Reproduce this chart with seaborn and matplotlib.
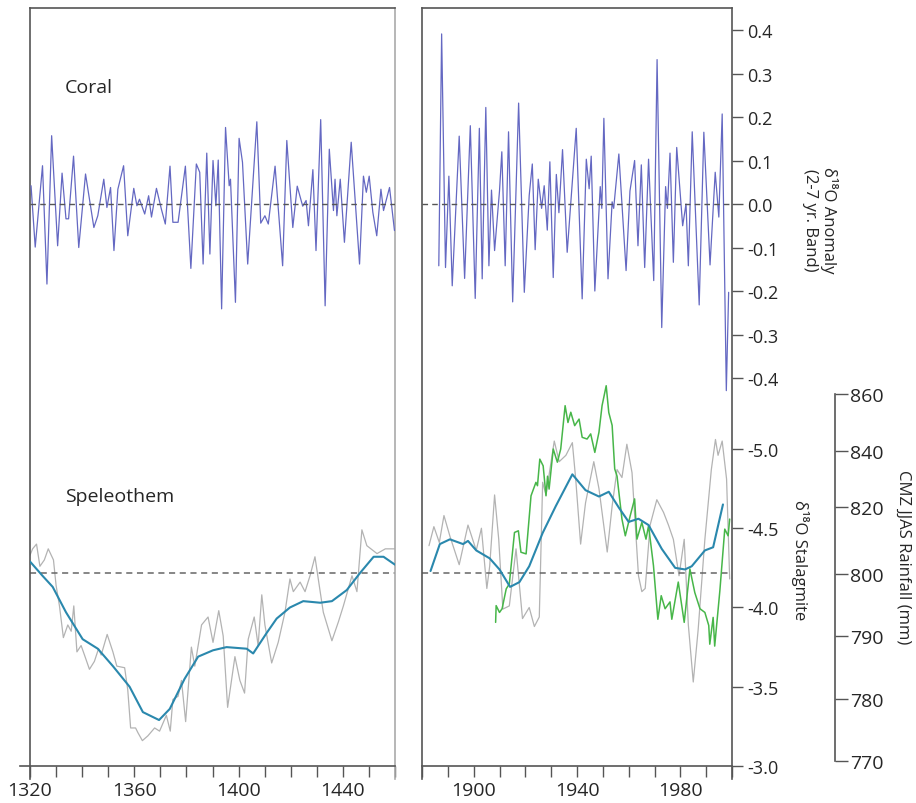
import numpy as np
import matplotlib
matplotlib.use("Agg")
import matplotlib.pyplot as plt
from matplotlib.ticker import FormatStrFormatter
import seaborn as sns

# ---- coral d18O anomaly (2-7 yr band), 1320-1460 ----
coral_old_years = [1320.4, 1322.0, 1324.8, 1326.5, 1328.3, 1330.6, 1332.3, 1333.8, 1334.8, 1336.7,
                   1338.7, 1341.3, 1344.5, 1346.0, 1348.3, 1349.5, 1350.9, 1352.2, 1353.7, 1355.9,
                   1357.5, 1359.8, 1361.0, 1362.0, 1364.0, 1365.5, 1366.6, 1368.5, 1370.4, 1371.9,
                   1373.7, 1374.8, 1376.8, 1379.6, 1381.7, 1383.8, 1385.1, 1386.4, 1387.8, 1389.0,
                   1390.2, 1391.3, 1392.2, 1393.5, 1395.0, 1396.4, 1396.9, 1398.8, 1400.2, 1401.5,
                   1403.5, 1407.0, 1408.5, 1410.1, 1411.4, 1414.0, 1416.9, 1418.5, 1420.8, 1422.5,
                   1424.6, 1425.9, 1426.8, 1428.5, 1429.7, 1431.5, 1433.2, 1434.8, 1436.4, 1437.0,
                   1437.7, 1439.0, 1440.6, 1443.2, 1446.4, 1447.9, 1449.0, 1450.1, 1451.5, 1453.0,
                   1454.6, 1455.6, 1457.9, 1459.8]
coral_old_vals = [0.042, -0.099, 0.088, -0.184, 0.157, -0.096, 0.071, -0.034, -0.034, 0.110,
                  -0.100, 0.069, -0.054, -0.027, 0.057, -0.008, 0.038, -0.107, 0.034, 0.088,
                  -0.073, 0.036, -0.004, 0.011, -0.023, 0.019, -0.030, 0.036, -0.012, -0.046,
                  0.087, -0.042, -0.042, 0.087, -0.148, 0.092, 0.073, -0.138, 0.117, -0.115,
                  0.100, -0.004, 0.101, -0.241, 0.176, 0.042, 0.057, -0.226, 0.151, 0.096,
                  -0.138, 0.189, -0.044, -0.027, -0.046, 0.087, -0.142, 0.146, -0.054, 0.041,
                  -0.005, 0.008, -0.050, 0.079, -0.107, 0.194, -0.234, 0.126, -0.015, 0.057,
                  -0.027, 0.057, -0.088, 0.142, -0.138, 0.064, 0.027, 0.064, -0.019, -0.073,
                  0.034, -0.015, 0.038, -0.061]

# ---- coral d18O anomaly, 1880-2000 ----
coral_new_years = [1886.5, 1887.6, 1889.1, 1890.4, 1891.7, 1894.4, 1896.5, 1898.7, 1900.6, 1902.2,
                   1903.3, 1904.7, 1905.9, 1906.9, 1908.1, 1910.0, 1910.9, 1912.2, 1913.5, 1915.1,
                   1917.4, 1919.6, 1921.5, 1922.7, 1923.8, 1925.0, 1926.3, 1927.3, 1928.5, 1929.5,
                   1930.8, 1932.0, 1933.0, 1934.4, 1936.2, 1939.7, 1942.0, 1943.6, 1944.7, 1945.5,
                   1946.9, 1949.0, 1949.6, 1950.4, 1952.0, 1953.6, 1954.2, 1956.2, 1959.0, 1960.5,
                   1962.3, 1963.6, 1964.9, 1966.2, 1967.7, 1969.7, 1971.0, 1972.8, 1974.3, 1975.0,
                   1976.0, 1977.3, 1978.6, 1980.9, 1982.2, 1983.1, 1984.6, 1987.3, 1989.1, 1991.5,
                   1993.5, 1994.9, 1996.2, 1997.8, 1998.7]
coral_new_vals = [-0.142, 0.391, -0.146, 0.064, -0.188, 0.156, -0.171, 0.180, -0.217, 0.174,
                  -0.172, 0.222, -0.142, 0.032, -0.107, 0.030, 0.120, -0.142, 0.166, -0.225,
                  0.232, -0.203, 0.020, 0.092, -0.105, 0.057, -0.010, 0.042, -0.060, 0.097,
                  -0.169, 0.068, -0.020, 0.125, -0.111, 0.174, -0.218, 0.103, 0.035, 0.110,
                  -0.200, 0.040, -0.010, 0.197, -0.172, 0.005, -0.010, 0.115, -0.153, 0.030,
                  0.100, -0.096, 0.090, -0.146, 0.103, -0.176, 0.332, -0.284, 0.040, -0.010,
                  0.117, -0.134, 0.130, -0.050, 0.000, -0.142, 0.166, -0.232, 0.165, -0.140,
                  0.073, -0.030, 0.207, -0.429, -0.203]

# ---- stalagmite d18O, raw (grey) and smoothed (teal), 1320-1460 ----
spel_old_years = [1320.0, 1321.0, 1322.5, 1323.8, 1325.5, 1327.0, 1329.0, 1330.0, 1331.3, 1332.8,
                  1334.5, 1335.8, 1336.8, 1338.0, 1339.6, 1340.9, 1342.8, 1344.7, 1346.3, 1347.3,
                  1349.6, 1351.8, 1353.3, 1356.3, 1357.5, 1358.6, 1360.5, 1361.4, 1363.1, 1365.2,
                  1367.8, 1369.7, 1372.3, 1373.8, 1374.8, 1376.8, 1378.1, 1379.7, 1381.9, 1383.2,
                  1385.8, 1388.3, 1390.2, 1392.4, 1394.1, 1395.8, 1398.6, 1400.5, 1402.3, 1403.7,
                  1406.0, 1407.5, 1408.9, 1410.1, 1412.7, 1415.2, 1417.8, 1419.7, 1421.0, 1423.6,
                  1425.5, 1427.4, 1429.3, 1431.3, 1432.5, 1435.8, 1438.3, 1440.2, 1443.5, 1445.4,
                  1447.3, 1449.2, 1453.1, 1456.3, 1460.0]
spel_old_raw = [-4.33, -4.37, -4.40, -4.26, -4.30, -4.37, -4.30, -4.14, -4.01, -3.81,
                -3.89, -3.85, -4.01, -3.72, -3.76, -3.70, -3.61, -3.66, -3.74, -3.70,
                -3.83, -3.72, -3.63, -3.62, -3.48, -3.24, -3.24, -3.21, -3.16, -3.19,
                -3.24, -3.22, -3.32, -3.22, -3.42, -3.44, -3.54, -3.28, -3.75, -3.63,
                -3.89, -3.94, -3.78, -3.98, -3.82, -3.37, -3.69, -3.54, -3.46, -3.80,
                -3.94, -3.76, -4.08, -3.89, -3.65, -3.78, -3.97, -4.18, -4.10, -4.16,
                -4.10, -4.20, -4.32, -4.10, -3.97, -3.79, -3.91, -4.01, -4.20, -4.10,
                -4.49, -4.39, -4.34, -4.37, -4.37]
spel_old_sm_years = [1320.0, 1324.8, 1328.7, 1333.8, 1340.2, 1346.0, 1351.8, 1358.2, 1363.3, 1369.5,
                     1373.6, 1379.3, 1384.5, 1390.2, 1395.4, 1403.1, 1405.6, 1410.8, 1414.6, 1419.7,
                     1424.8, 1431.3, 1435.8, 1441.5, 1446.7, 1451.8, 1455.6, 1460.0]
spel_old_sm = [-4.29, -4.20, -4.13, -3.97, -3.80, -3.74, -3.63, -3.50, -3.34, -3.29,
               -3.36, -3.55, -3.69, -3.73, -3.75, -3.74, -3.71, -3.84, -3.93, -4.00,
               -4.04, -4.03, -4.04, -4.11, -4.22, -4.32, -4.32, -4.27]

# ---- stalagmite d18O, 1880-2000 ----
spel_new_years = [1882.7, 1884.6, 1886.7, 1888.5, 1890.8, 1894.4, 1897.8, 1901.0, 1903.0, 1905.1,
                  1906.2, 1908.1, 1909.7, 1911.3, 1913.8, 1916.4, 1918.9, 1921.5, 1923.5, 1925.4,
                  1926.7, 1928.0, 1931.2, 1933.1, 1935.7, 1938.2, 1939.5, 1941.4, 1943.3, 1946.5,
                  1948.5, 1951.7, 1953.6, 1955.5, 1957.4, 1959.3, 1961.3, 1963.8, 1965.1, 1966.4,
                  1968.3, 1970.9, 1973.5, 1975.4, 1977.3, 1979.5, 1981.5, 1983.1, 1985.0, 1986.9,
                  1989.5, 1992.0, 1993.6, 1994.6, 1996.2, 1997.9, 1999.1]
spel_new_raw = [-4.39, -4.51, -4.41, -4.58, -4.45, -4.27, -4.52, -4.36, -4.50, -4.12,
                -4.26, -4.71, -4.43, -3.99, -4.01, -4.37, -3.93, -4.00, -3.88, -3.94,
                -4.79, -4.71, -5.05, -4.92, -4.96, -5.04, -4.81, -4.40, -4.66, -4.92,
                -4.75, -4.35, -4.64, -4.87, -4.82, -5.03, -4.85, -4.20, -4.10, -4.12,
                -4.52, -4.68, -4.60, -4.52, -4.43, -4.20, -4.43, -3.89, -3.53, -3.86,
                -4.43, -4.87, -5.06, -4.96, -5.05, -4.81, -4.18]
spel_new_sm_years = [1883.3, 1886.9, 1890.8, 1895.9, 1897.8, 1901.0, 1906.2, 1910.0, 1914.1, 1917.7,
                     1921.5, 1926.7, 1931.8, 1938.2, 1943.3, 1948.5, 1952.3, 1956.2, 1960.0, 1963.8,
                     1967.7, 1972.8, 1978.0, 1981.8, 1984.4, 1989.5, 1992.7, 1996.5]
spel_new_sm = [-4.23, -4.40, -4.43, -4.40, -4.42, -4.36, -4.31, -4.24, -4.13, -4.16,
               -4.26, -4.47, -4.64, -4.84, -4.74, -4.70, -4.73, -4.63, -4.54, -4.56,
               -4.52, -4.37, -4.25, -4.24, -4.26, -4.36, -4.38, -4.65]

# ---- CMZ JJAS rainfall (mm) ----
rain_years = [1908.5, 1908.7, 1910.0, 1911.0, 1912.6, 1913.8, 1915.8, 1917.3, 1918.3, 1920.3,
              1922.2, 1924.1, 1924.7, 1925.6, 1926.9, 1928.0, 1928.6, 1929.2, 1930.8, 1932.4,
              1933.7, 1935.4, 1936.5, 1937.6, 1939.1, 1940.8, 1942.0, 1943.9, 1945.3, 1946.9,
              1948.5, 1949.7, 1951.3, 1952.3, 1953.6, 1954.6, 1955.5, 1957.4, 1958.7, 1960.6,
              1962.3, 1963.2, 1965.1, 1966.7, 1967.7, 1969.6, 1971.3, 1972.6, 1974.1, 1976.0,
              1976.7, 1979.2, 1981.5, 1983.7, 1985.6, 1987.6, 1989.5, 1991.0, 1991.4, 1992.7,
              1993.3, 1995.3, 1997.2, 1998.5, 1999.1]
rain_mm = [792.2, 794.9, 793.8, 794.4, 797.6, 798.4, 812.4, 812.9, 806.5, 806.0,
           824.0, 828.8, 827.6, 837.1, 834.7, 824.0, 831.0, 826.4, 840.7, 836.0,
           840.7, 855.9, 850.0, 853.6, 848.9, 851.2, 844.8, 844.2, 846.0, 839.5,
           846.6, 855.9, 862.9, 853.5, 849.0, 833.6, 831.0, 816.4, 811.4, 817.4,
           822.9, 810.4, 815.4, 810.4, 814.4, 802.5, 792.7, 796.5, 794.4, 795.5,
           792.7, 798.7, 792.2, 801.5, 797.0, 794.4, 793.8, 791.7, 788.7, 793.0,
           788.4, 797.3, 813.4, 811.4, 816.4]

coral_ticks = [-0.4, -0.3, -0.2, -0.1, 0.0, 0.1, 0.2, 0.3, 0.4]
stal_ticks = [-5.0, -4.5, -4.0, -3.5, -3.0]
rain_ticks = [770, 780, 790, 800, 820, 840, 860]
spel_ref = -4.22

# rainfall axis is drawn with uneven spacing between the labels
rain_knots = [700, 770, 780, 790, 800, 820, 840, 860, 1100]
rain_knot_pos = [-1196, -762, -700, -637, -575, -508, -452, -395, 289]


def rain_fwd(r):
    return np.interp(r, rain_knots, rain_knot_pos)


def rain_inv(p):
    return np.interp(p, rain_knot_pos, rain_knots)


sns.set_style("white")
plt.rcParams["font.family"] = ["Open Sans", "DejaVu Sans"]
plt.rcParams["axes.unicode_minus"] = False

SPINE = "#555555"
CORAL_C = "#6468c2"
GREY_C = "#b3b3b3"
TEAL_C = "#2a88ad"
GREEN_C = "#47b649"
DASH = (0, (4, 3))

fig = plt.figure(figsize=(9.16, 8.04), dpi=100)
ax_l = fig.add_axes([30 / 916, 24 / 804, 365 / 916, 771 / 804])
ax_r = fig.add_axes([422 / 916, 24 / 804, 310 / 916, 771 / 804])

CORAL_LIM = (-1.3218, 0.4506)
STAL_LIM = (-2.918, -7.782)


def base_setup(ax, xlim, majors, minors):
    ax.set_xlim(*xlim)
    ax.set_ylim(*STAL_LIM)
    ax.set_xticks(majors)
    ax.set_xticks(minors, minor=True)
    ax.tick_params(axis="x", which="both", bottom=True, direction="out", length=8,
                   width=1, color=SPINE, labelsize=14, pad=3)
    ax.spines["bottom"].set_position(("axes", 13 / 771))
    for s in ax.spines.values():
        s.set_color(SPINE)
        s.set_linewidth(1.2)


def hide_y(ax):
    ax.tick_params(axis="y", which="both", left=False, right=False,
                   labelleft=False, labelright=False)


def hide_twin(tw):
    for s in tw.spines.values():
        s.set_visible(False)
    hide_y(tw)


# ---------------- left panel ----------------
base_setup(ax_l, (1320, 1460), [1320, 1360, 1400, 1440], list(range(1320, 1461, 10)))
ax_l.spines["right"].set_color("#aaaaaa")
ax_l.spines["bottom"].set_bounds(1316, 1460)
sns.lineplot(x=spel_old_years, y=spel_old_raw, ax=ax_l, color=GREY_C, lw=0.9,
             estimator=None, sort=False)
ax_l.axhline(spel_ref, color="#666666", lw=1.1, ls=DASH)

tl = ax_l.twinx()
hide_twin(tl)
sns.lineplot(x=spel_old_sm_years, y=spel_old_sm, ax=tl, color=TEAL_C, lw=1.5,
             estimator=None, sort=False)
tl.set_ylim(*STAL_LIM)

cl = ax_l.twinx()
hide_twin(cl)
sns.lineplot(x=coral_old_years, y=coral_old_vals, ax=cl, color=CORAL_C, lw=0.9,
             estimator=None, sort=False)
cl.axhline(0, color="#555555", lw=1.0, ls=DASH)
cl.set_ylim(*CORAL_LIM)
ax_l.set_xlim(1320, 1460)
hide_y(ax_l)

ax_l.text(0.096, 0.8975, "Coral", transform=ax_l.transAxes, fontsize=14, va="center", ha="left")
ax_l.text(0.096, 0.367, "Speleothem", transform=ax_l.transAxes, fontsize=14, va="center", ha="left")

# ---------------- right panel ----------------
base_setup(ax_r, (1880, 2000), [1900, 1940, 1980], list(range(1880, 2001, 10)))
ax_r.spines["right"].set_visible(False)
sns.lineplot(x=spel_new_years, y=spel_new_raw, ax=ax_r, color=GREY_C, lw=0.9,
             estimator=None, sort=False)
ax_r.axhline(spel_ref, color="#666666", lw=1.1, ls=DASH)

# rainfall axis
rr = ax_r.twinx()
for s in ["top", "left", "bottom"]:
    rr.spines[s].set_visible(False)
rr.set_yscale("function", functions=(rain_fwd, rain_inv))
sns.lineplot(x=rain_years, y=rain_mm, ax=rr, color=GREEN_C, lw=1.1, estimator=None, sort=False)
rr.set_ylim(rain_inv(-780), rain_inv(-9))
rr.spines["right"].set_position(("axes", (835 - 422) / 310))
rr.spines["right"].set_bounds(770, 860)
rr.spines["right"].set_color(SPINE)
rr.spines["right"].set_linewidth(1.2)
rr.set_yticks(rain_ticks)
rr.yaxis.set_minor_locator(matplotlib.ticker.NullLocator())
rr.yaxis.set_major_formatter(FormatStrFormatter("%d"))
rr.tick_params(axis="y", right=True, labelright=True, left=False, labelleft=False,
               direction="out", length=9, width=1, color=SPINE, labelsize=14, pad=2)
rr.set_ylabel("CMZ JJAS Rainfall (mm)", rotation=270, fontsize=12, va="center", ha="center")
rr.yaxis.set_label_coords(1.552, 0.289)

# stalagmite smoothed + axis
tr = ax_r.twinx()
for s in tr.spines.values():
    s.set_visible(False)
sns.lineplot(x=spel_new_sm_years, y=spel_new_sm, ax=tr, color=TEAL_C, lw=1.5,
             estimator=None, sort=False)
tr.set_ylim(*STAL_LIM)
tr.set_yticks(stal_ticks)
tr.yaxis.set_major_formatter(FormatStrFormatter("%.1f"))
tr.tick_params(axis="y", right=True, labelright=True, left=False, labelleft=False,
               direction="out", length=8, width=1, color=SPINE, labelsize=13, pad=3)
tr.set_ylabel("δ¹⁸O Stalagmite", rotation=270, fontsize=12, va="center", ha="center")
tr.yaxis.set_label_coords(1.219, 0.285)

# coral + axis
cr = ax_r.twinx()
for s in ["top", "left", "bottom"]:
    cr.spines[s].set_visible(False)
cr.spines["right"].set_color(SPINE)
cr.spines["right"].set_linewidth(1.2)
sns.lineplot(x=coral_new_years, y=coral_new_vals, ax=cr, color=CORAL_C, lw=0.9,
             estimator=None, sort=False)
cr.axhline(0, color="#555555", lw=1.0, ls=DASH)
cr.set_ylim(*CORAL_LIM)
cr.set_yticks(coral_ticks)
cr.yaxis.set_major_formatter(FormatStrFormatter("%.1f"))
cr.tick_params(axis="y", right=True, labelright=True, left=False, labelleft=False,
               direction="out", length=8, width=1, color=SPINE, labelsize=13, pad=3)
cr.set_ylabel("δ¹⁸O Anomaly\n(2-7 yr. Band)", rotation=270, fontsize=12,
              va="center", ha="center", linespacing=1.15)
cr.yaxis.set_label_coords(1.284, 0.726)
ax_r.set_xlim(1880, 2000)
hide_y(ax_r)

fig.savefig("out.png", dpi=100)
